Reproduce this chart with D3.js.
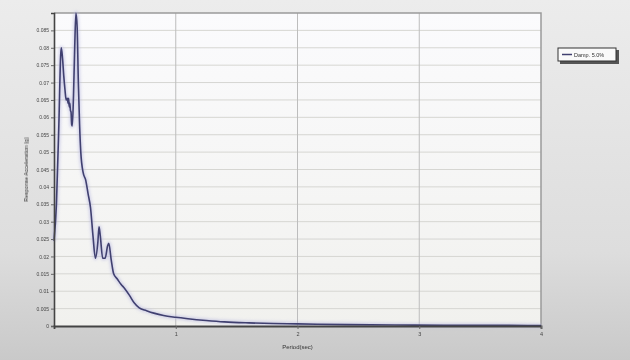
<!DOCTYPE html>
<html>
<head>
<meta charset="utf-8">
<script src="https://cdn.jsdelivr.net/npm/d3@7"></script>
<style>
  html, body { margin: 0; padding: 0; background: #d4d4d4; }
  svg { display: block; }
  text { font-family: "Liberation Sans", Arial, sans-serif; }
</style>
</head>
<body>
<svg id="chart" width="630" height="360"></svg>
<script>
// Response spectrum, 5% damping
const periods = [0.00, 0.02, 0.04, 0.055, 0.06, 0.07, 0.08, 0.09, 0.10, 0.11, 0.115, 0.12, 0.125, 0.13, 0.135, 0.14, 0.145, 0.15,
  0.16, 0.17, 0.18, 0.19, 0.20, 0.21, 0.22, 0.24, 0.26, 0.28, 0.30, 0.32, 0.34, 0.36, 0.37, 0.38, 0.40, 0.42, 0.44, 0.45,
  0.47, 0.49, 0.52, 0.55, 0.58, 0.62, 0.66, 0.70, 0.76, 0.82, 0.90, 1.00, 1.10, 1.25, 1.40, 1.60, 1.80, 2.00, 2.40, 2.80,
  3.20, 3.60, 4.00];
const accel = [0.0245, 0.035, 0.058, 0.078, 0.080, 0.077, 0.072, 0.068, 0.065, 0.0655, 0.064, 0.0655, 0.063, 0.064, 0.062, 0.0615, 0.058, 0.0575,
  0.066, 0.080, 0.090, 0.086, 0.070, 0.058, 0.050, 0.044, 0.042, 0.038, 0.034, 0.026, 0.0195, 0.024, 0.0285, 0.026, 0.0195, 0.0195, 0.023, 0.0238,
  0.019, 0.015, 0.0135, 0.012, 0.0108, 0.0088, 0.0066, 0.0052, 0.0044, 0.0037, 0.0030, 0.0025, 0.0021, 0.0016, 0.0012, 0.0009, 0.0007, 0.0006, 0.0004, 0.0003,
  0.0002, 0.0002, 0.0001];
const seriesName = "Damp. 5.0%";
const xTicks = [1, 2, 3, 4];
const yTicks = [0, 0.005, 0.01, 0.015, 0.02, 0.025, 0.03, 0.035, 0.04, 0.045, 0.05, 0.055, 0.06, 0.065, 0.07, 0.075, 0.08, 0.085];
const yTickLabels = ["0", "0.005", "0.01", "0.015", "0.02", "0.025", "0.03", "0.035", "0.04", "0.045", "0.05", "0.055", "0.06", "0.065", "0.07", "0.075", "0.08", "0.085"];
const yGrid = [0.005, 0.01, 0.015, 0.02, 0.025, 0.03, 0.035, 0.04, 0.045, 0.05, 0.055, 0.06, 0.065, 0.07, 0.075, 0.08, 0.085];

const svg = d3.select("#chart");
const W = 630, H = 360;
const m = { left: 54, right: 89, top: 13, bottom: 33 };

const defs = svg.append("defs");
const bg = defs.append("linearGradient").attr("id", "bg").attr("x1", 0).attr("y1", 0).attr("x2", 0).attr("y2", 1);
bg.append("stop").attr("offset", 0).attr("stop-color", "#ececec");
bg.append("stop").attr("offset", 0.7).attr("stop-color", "#dddddd");
bg.append("stop").attr("offset", 1).attr("stop-color", "#c9c9c9");
const pg = defs.append("linearGradient").attr("id", "pg").attr("x1", 0).attr("y1", 0).attr("x2", 0).attr("y2", 1);
pg.append("stop").attr("offset", 0).attr("stop-color", "#fbfbfd");
pg.append("stop").attr("offset", 1).attr("stop-color", "#f1f1ee");
defs.append("filter").attr("id", "soft").append("feGaussianBlur").attr("stdDeviation", 0.35);
defs.append("filter").attr("id", "halo").append("feGaussianBlur").attr("stdDeviation", 1.6);

svg.append("rect").attr("width", W).attr("height", H).attr("fill", "url(#bg)");

const x = d3.scaleLinear().domain([0, 4]).range([m.left, W - m.right]);
const y = d3.scaleLinear().domain([0, 0.09]).range([H - m.bottom - 1, m.top]);

// plot area
svg.append("rect")
  .attr("x", x(0)).attr("y", y(0.09))
  .attr("width", x(4) - x(0)).attr("height", y(0) - y(0.09))
  .attr("fill", "url(#pg)");

// gridlines
svg.append("g").selectAll("line").data(yGrid).join("line")
  .attr("x1", x(0)).attr("x2", x(4))
  .attr("y1", d => y(d)).attr("y2", d => y(d))
  .attr("stroke", "#d6d6d2").attr("stroke-width", 1);
svg.append("g").selectAll("line").data([1, 2, 3]).join("line")
  .attr("x1", d => x(d)).attr("x2", d => x(d))
  .attr("y1", y(0)).attr("y2", y(0.09))
  .attr("stroke", "#bdbdbd").attr("stroke-width", 1);

// frame: top and right light, left and bottom dark
svg.append("path")
  .attr("d", `M${x(0)},${y(0.09)}H${x(4)}V${y(0)}`)
  .attr("fill", "none").attr("stroke", "#9a9a9a").attr("stroke-width", 1.5);

// series
const pts = periods.map((p, i) => [p, accel[i]]);
const line = d3.line().x(d => x(d[0])).y(d => y(d[1])).curve(d3.curveMonotoneX);
svg.append("path").datum(pts).attr("d", line)
  .attr("fill", "none").attr("stroke", "#b8b8e0").attr("stroke-width", 4)
  .attr("opacity", 0.6).attr("filter", "url(#halo)");
svg.append("path").datum(pts).attr("d", line)
  .attr("fill", "none").attr("stroke", "#404070").attr("stroke-width", 1.6)
  .attr("stroke-linejoin", "round");

// axes
const yAxis = d3.axisLeft(y).tickValues(yTicks)
  .tickFormat((d, i) => yTickLabels[i]).tickSize(3).tickPadding(2);
const gy = svg.append("g").attr("transform", `translate(${x(0)},0)`).call(yAxis);
gy.select(".domain").attr("stroke", "#444").attr("stroke-width", 1.6);
gy.selectAll(".tick line").attr("stroke", "#666");
gy.selectAll("text").attr("font-size", 5).attr("fill", "#444").attr("filter", "url(#soft)");

const xAxis = d3.axisBottom(x).tickValues(xTicks).tickFormat(d3.format("d")).tickSize(3).tickPadding(3);
const gx = svg.append("g").attr("transform", `translate(0,${y(0)})`).call(xAxis);
gx.select(".domain").attr("stroke", "#444").attr("stroke-width", 1.8);
gx.selectAll(".tick line").attr("stroke", "#666");
gx.selectAll("text").attr("font-size", 5.5).attr("fill", "#444").attr("filter", "url(#soft)");

// axis titles
svg.append("text")
  .attr("x", (x(0) + x(4)) / 2).attr("y", 349)
  .attr("text-anchor", "middle").attr("font-size", 6).attr("fill", "#333")
  .attr("filter", "url(#soft)")
  .text("Period(sec)");
svg.append("text")
  .attr("transform", `translate(28,${(y(0) + y(0.09)) / 2}) rotate(-90)`)
  .attr("text-anchor", "middle").attr("font-size", 5.5).attr("fill", "#333")
  .attr("filter", "url(#soft)")
  .text("Response Acceleration (g)");

// legend
const lg = svg.append("g").attr("transform", "translate(558,48)");
lg.append("rect").attr("x", 2).attr("y", 2).attr("width", 59).attr("height", 14).attr("fill", "#555");
lg.append("rect").attr("width", 58).attr("height", 13).attr("fill", "#fafafa")
  .attr("stroke", "#333").attr("stroke-width", 1);
lg.append("line").attr("x1", 4).attr("x2", 14).attr("y1", 6.5).attr("y2", 6.5)
  .attr("stroke", "#404070").attr("stroke-width", 1.5);
lg.append("text").attr("x", 16).attr("y", 8.5).attr("font-size", 5.5).attr("fill", "#333")
  .attr("filter", "url(#soft)")
  .text(seriesName);
</script>
</body>
</html>
